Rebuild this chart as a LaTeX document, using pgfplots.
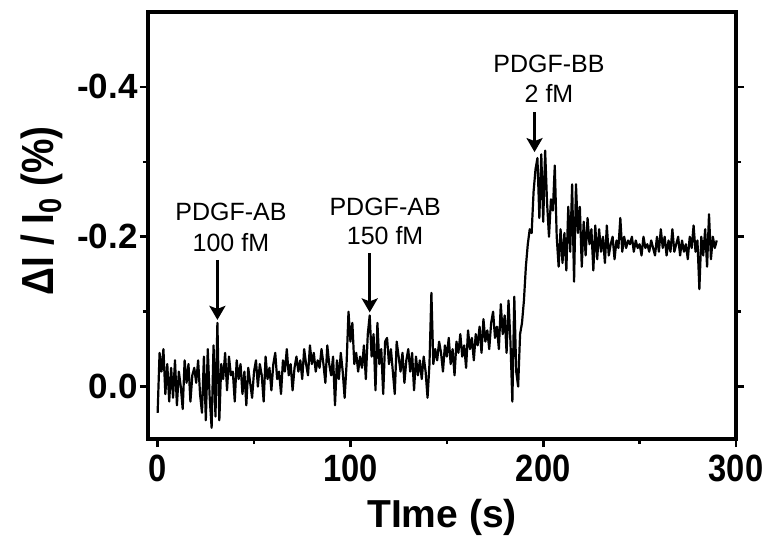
\documentclass[border=0pt]{standalone}
\usepackage{pgfplots}
\pgfplotsset{compat=1.18}
\usepackage{fontspec}
\setmainfont{Liberation Sans}
\newfontfamily\condensed[FakeStretch=0.86]{Liberation Sans}
\usetikzlibrary{arrows.meta}
\begin{document}
\begin{tikzpicture}
\begin{axis}[
  scale only axis,
  width=294pt, height=213.5pt,
  xmin=-5, xmax=300,
  ymin=-0.5, ymax=0.07,
  y dir=reverse,
  axis line style={line width=1.6pt},
  every tick/.style={line width=1.3pt, black},
  tick align=outside,
  major tick length=4pt,
  minor tick length=2.5pt,
  xtick pos=bottom,
  ytick pos=both,
  xtick={0,100,200,300},
  xticklabels={0,100,200,300},
  minor xtick={50,150,250},
  ytick={-0.4,-0.2,0},
  yticklabels={-0.4,-0.2,0.0},
  minor ytick={-0.3,-0.1},
  yticklabel style={font=\bfseries\fontsize{17.5}{20}\selectfont, inner sep=1pt},
  xticklabel style={font=\condensed\bfseries\fontsize{19}{21}\selectfont, inner sep=1pt, yshift=-3pt},
  xlabel={TIme (s)},
  xlabel style={font=\bfseries\fontsize{19.5}{22}\selectfont, at={(axis description cs:0.5,-0.124)}, anchor=north},
  ylabel={ΔI / I\textsubscript{0} (\%)},
  ylabel style={font=\condensed\bfseries\fontsize{22.5}{24}\selectfont, at={(axis description cs:-0.180,0.534)}, anchor=center, rotate=0},
  clip=false,
]
\addplot[black, line width=1.1pt, line join=round] table {
0 0.035
1 -0.045
2 -0.02
3 -0.05
4 0.01
5 -0.03
6 0.02
7 -0.025
8 0.015
9 -0.035
10 0.025
11 -0.02
12 0.0
13 0.03
14 -0.035
15 -0.005
16 -0.03
17 0.02
18 -0.015
19 -0.025
20 -0.005
21 -0.035
22 0.01
23 0.035
24 -0.04
25 0.045
26 -0.05
27 0.015
28 0.055
29 -0.055
30 0.04
31 -0.085
32 0.045
33 -0.03
34 -0.01
35 -0.045
36 0.005
37 -0.04
38 -0.015
39 -0.02
40 0.02
41 -0.035
42 -0.01
43 -0.03
44 0.01
45 -0.02
46 0.025
47 -0.025
48 -0.005
49 0.015
50 -0.02
51 -0.035
52 0.0
53 -0.03
54 -0.015
55 0.02
56 -0.04
57 -0.01
58 -0.025
59 0.005
60 -0.03
61 -0.045
62 -0.01
63 -0.02
64 0.01
65 -0.035
66 -0.02
67 -0.05
68 -0.015
69 -0.03
70 0.005
71 -0.025
72 -0.04
73 -0.02
74 -0.035
75 -0.01
76 -0.05
77 -0.03
78 -0.015
79 -0.055
80 -0.03
81 -0.045
82 -0.02
83 -0.035
84 -0.025
85 -0.05
86 -0.03
87 -0.005
88 -0.055
89 -0.03
90 -0.015
91 -0.04
92 0.025
93 -0.035
94 -0.01
95 -0.045
96 -0.02
97 0.015
98 -0.03
99 -0.1
100 -0.06
101 -0.085
102 -0.03
103 -0.045
104 -0.02
105 -0.04
106 -0.025
107 -0.055
108 -0.01
109 -0.07
110 -0.095
111 -0.04
112 -0.07
113 0.005
114 -0.085
115 -0.03
116 -0.05
117 0.01
118 -0.06
119 -0.065
120 -0.03
121 -0.05
122 -0.02
123 0.01
124 -0.06
125 -0.04
126 -0.02
127 -0.045
128 -0.005
129 -0.035
130 -0.05
131 -0.02
132 -0.045
133 0.005
134 -0.04
135 -0.015
136 -0.035
137 -0.01
138 -0.04
139 -0.02
140 0.015
141 -0.03
142 -0.125
143 -0.03
144 -0.05
145 -0.035
146 -0.06
147 -0.045
148 -0.02
149 -0.055
150 -0.04
151 -0.065
152 -0.03
153 -0.05
154 -0.015
155 -0.06
156 -0.045
157 -0.07
158 -0.04
159 -0.055
160 -0.025
161 -0.075
162 -0.05
163 -0.065
164 -0.035
165 -0.07
166 -0.055
167 -0.08
168 -0.045
169 -0.09
170 -0.06
171 -0.075
172 -0.05
173 -0.085
174 -0.1
175 -0.065
176 -0.08
177 -0.05
178 -0.11
179 -0.07
180 -0.095
181 -0.045
182 -0.115
183 -0.06
184 0.02
185 -0.12
186 -0.02
187 0.0
188 -0.07
189 -0.085
190 -0.115
191 -0.16
192 -0.19
193 -0.21
194 -0.205
195 -0.26
196 -0.29
197 -0.305
198 -0.225
199 -0.31
200 -0.22
201 -0.315
202 -0.245
203 -0.2
204 -0.25
205 -0.235
206 -0.295
207 -0.2
208 -0.16
209 -0.21
210 -0.165
211 -0.205
212 -0.155
213 -0.24
214 -0.18
215 -0.27
216 -0.14
217 -0.27
218 -0.205
219 -0.24
220 -0.16
221 -0.22
222 -0.175
223 -0.225
224 -0.19
225 -0.21
226 -0.155
227 -0.215
228 -0.17
229 -0.21
230 -0.18
231 -0.2
232 -0.165
233 -0.215
234 -0.175
235 -0.19
236 -0.2
237 -0.17
238 -0.195
239 -0.185
240 -0.225
241 -0.18
242 -0.2
243 -0.185
244 -0.195
245 -0.19
246 -0.2
247 -0.18
248 -0.195
249 -0.185
250 -0.19
251 -0.175
252 -0.2
253 -0.185
254 -0.19
255 -0.18
256 -0.195
257 -0.185
258 -0.175
259 -0.2
260 -0.18
261 -0.21
262 -0.185
263 -0.2
264 -0.175
265 -0.195
266 -0.18
267 -0.21
268 -0.18
269 -0.19
270 -0.2
271 -0.175
272 -0.195
273 -0.18
274 -0.19
275 -0.17
276 -0.2
277 -0.185
278 -0.215
279 -0.18
280 -0.195
281 -0.13
282 -0.2
283 -0.175
284 -0.21
285 -0.16
286 -0.23
287 -0.17
288 -0.2
289 -0.185
290 -0.195
};
\begin{scope}[every node/.style={font=\fontsize{12.5}{14}\selectfont, inner sep=0pt}]
\node at (axis cs:38,-0.233) {PDGF-AB};
\node at (axis cs:38,-0.192) {100 fM};
\node at (axis cs:118,-0.240) {PDGF-AB};
\node at (axis cs:118,-0.202) {150 fM};
\node at (axis cs:203,-0.431) {PDGF-BB};
\node at (axis cs:203,-0.391) {2 fM};
\end{scope}
\draw[line width=1.7pt, -{Stealth[length=7pt,width=8pt,inset=1.5pt]}] (axis cs:31,-0.169) -- (axis cs:31,-0.089);
\draw[line width=1.7pt, -{Stealth[length=7pt,width=8pt,inset=1.5pt]}] (axis cs:110,-0.178) -- (axis cs:110,-0.099);
\draw[line width=1.7pt, -{Stealth[length=7pt,width=8pt,inset=1.5pt]}] (axis cs:195.5,-0.366) -- (axis cs:195.5,-0.313);
\end{axis}
\pgfresetboundingbox
\path ([xshift=-74pt,yshift=-50pt]current axis.south west) rectangle ([xshift=17pt,yshift=6pt]current axis.north east);
\end{tikzpicture}
\end{document}
